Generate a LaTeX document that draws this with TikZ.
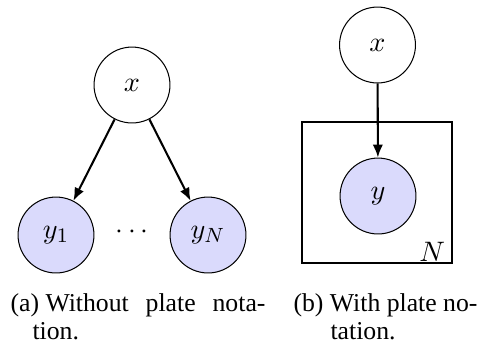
\documentclass[tikz,border=0pt]{standalone}
\usepackage[no-math]{fontspec}
\setmainfont{Liberation Serif}
\usetikzlibrary{arrows.meta,calc}
\definecolor{obsfill}{RGB}{218,218,252}
\tikzset{
  mathsize/.style={font=\fontsize{10.95}{13}\selectfont},
  varnode/.style={circle, draw=black, line width=0.4pt, minimum size=29.5pt, inner sep=0pt, mathsize},
  obsnode/.style={varnode, fill=obsfill},
  edgearrow/.style={line width=0.8pt, -{Latex[length=5pt,width=4pt]}},
  platebox/.style={draw=black, line width=0.45pt, inner sep=0pt},
  captext/.style={anchor=base west, inner sep=0pt, font=\normalsize}
}
\begin{document}
\begin{tikzpicture}[x=0.3887pt, y=-0.3887pt]
\useasboundingbox (0,0) rectangle (482,343);
% (a) without plate notation
\node[varnode] (xa) at (132,85) {$x$};
\node[obsnode] (y1) at (56,235) {$y_1$};
\node[obsnode] (yN) at (208,235) {$y_N$};
\node[anchor=base, inner sep=0pt, mathsize] (dots) at ($(y1.base)!0.5!(yN.base)$) {$\cdots$};
\draw[edgearrow] (xa) -- (y1);
\draw[edgearrow] (xa) -- (yN);
% (b) with plate notation
\node[varnode] (xb) at (377.5,45) {$x$};
\node[platebox, minimum width=58.3pt, minimum height=54.8pt] (plate) at (377,192.5) {};
\node[obsnode] (yb) at (378,196) {$y$};
\node[anchor=base east, inner sep=0pt, mathsize] (N) at ([shift={(-7,-2)}]plate.south east) {$N$};
\draw[edgearrow] (xb) -- (yb);
% captions
\node[captext] (capa1) at (10,311) {\makebox[99.1pt][s]{(a) Without\hfill{} plate\hfill{} nota-}};
\node[captext] (capa2) at (32,339) {tion.};
\node[captext] (capb1) at (293,311) {(b) With plate no-};
\node[captext] (capb2) at (330,339) {tation.};
\end{tikzpicture}
\end{document}
